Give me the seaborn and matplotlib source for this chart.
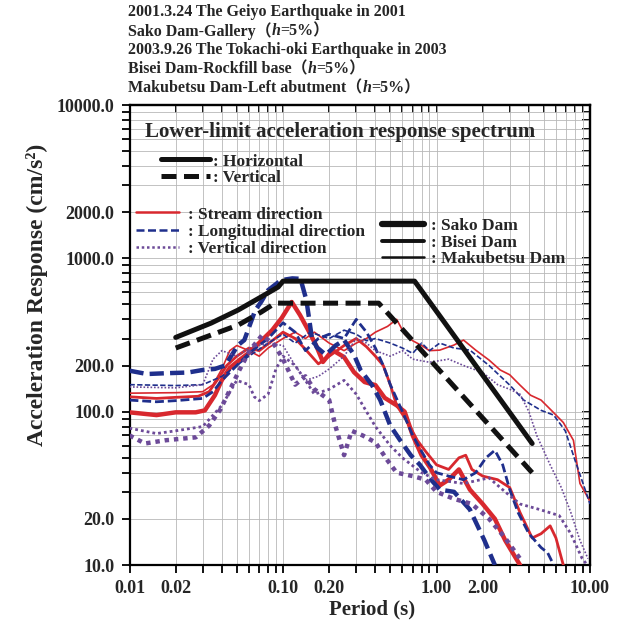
import numpy as np
import pandas as pd
import matplotlib
matplotlib.use("Agg")
import matplotlib.pyplot as plt
from matplotlib.ticker import FixedLocator, FixedFormatter, LogLocator, NullFormatter
from matplotlib.lines import Line2D
import seaborn as sns

# ---------------- data ----------------
dams = ["Sako Dam", "Bisei Dam", "Makubetsu Dam"]
directions = ["Stream direction", "Longitudinal direction", "Vertical direction"]

sako_stream_T = [0.01, 0.015, 0.02, 0.027, 0.031, 0.036, 0.04, 0.045, 0.052, 0.061, 0.073, 0.085, 0.098,
                 0.114, 0.129, 0.146, 0.164, 0.182, 0.21, 0.25, 0.29, 0.34, 0.40, 0.46, 0.55, 0.62, 0.70,
                 0.80, 0.91, 1.05, 1.2, 1.4, 1.65, 2.0, 2.4, 2.8, 3.2, 3.5]
sako_stream_Sa = [99, 95, 99, 99, 102, 128, 161, 193, 217, 245, 293, 340, 408, 519, 427, 340, 272, 211,
                  252, 227, 181, 156, 149, 123, 110, 100, 70, 52, 43, 33, 36, 42, 31, 25, 20, 14.5, 11.6, 10]

sako_long_T = [0.01, 0.013, 0.017, 0.024, 0.03, 0.036, 0.042, 0.051, 0.056, 0.066, 0.072, 0.08, 0.097,
               0.115, 0.13, 0.142, 0.154, 0.166, 0.19, 0.22, 0.25, 0.29, 0.32, 0.38, 0.43, 0.5, 0.58,
               0.68, 0.78, 0.9, 1.05, 1.3, 1.65, 2.05, 2.4]
sako_long_Sa = [185, 176, 178, 180, 187, 190, 200, 272, 293, 460, 519, 620, 720, 740, 735, 535, 306, 263,
                235, 270, 293, 235, 187, 149, 119, 81, 65, 52, 45, 37, 31, 30, 23, 14.5, 10]

sako_vert_T = [0.01, 0.0126, 0.017, 0.027, 0.033, 0.039, 0.045, 0.052, 0.061, 0.073, 0.088, 0.1, 0.12,
               0.14, 0.16, 0.2, 0.22, 0.25, 0.28, 0.33, 0.4, 0.48, 0.55, 0.7, 0.85, 1.0, 1.3, 1.7, 2.2,
               2.8, 3.5]
sako_vert_Sa = [70, 62, 65, 68, 81, 103, 138, 187, 252, 315, 272, 220, 150, 170, 140, 119, 80, 52, 75,
                70, 63, 48, 40, 38, 36, 30, 27, 25, 20, 15, 11]

bisei_stream_T = [0.01, 0.015, 0.02, 0.028, 0.033, 0.038, 0.043, 0.05, 0.06, 0.07, 0.085, 0.1, 0.12,
                  0.14, 0.17, 0.2, 0.25, 0.3, 0.35, 0.4, 0.45, 0.5, 0.55, 0.65, 0.75, 0.85, 1.0, 1.2,
                  1.4, 1.55, 1.7, 2.0, 2.5, 3.0, 3.5, 4.2, 4.8, 5.5, 6.0, 6.7]
bisei_stream_Sa = [125, 122, 124, 126, 135, 165, 200, 230, 260, 250, 290, 330, 300, 255, 205, 230, 270,
                   300, 265, 230, 200, 150, 110, 85, 65, 55, 45, 42, 50, 52, 42, 38, 36, 32, 22, 15, 16,
                   18, 15, 10]

bisei_long_T = [0.01, 0.015, 0.02, 0.03, 0.035, 0.04, 0.05, 0.06, 0.08, 0.1, 0.12, 0.14, 0.17, 0.2,
                0.25, 0.3, 0.35, 0.4, 0.45, 0.5, 0.6, 0.7, 0.8, 0.9, 1.0, 1.2, 1.5, 1.8, 2.1, 2.4, 2.7,
                3.0, 3.4, 4.0, 4.8, 5.3, 5.8]
bisei_long_Sa = [119, 116, 118, 122, 135, 160, 200, 240, 300, 380, 330, 250, 300, 320, 300, 400, 330,
                 260, 200, 150, 100, 70, 55, 45, 40, 38, 36, 40, 50, 56, 45, 31, 22, 16, 13, 12, 10]

bisei_vert_T = [0.01, 0.015, 0.02, 0.03, 0.04, 0.05, 0.06, 0.065, 0.07, 0.08, 0.09, 0.1, 0.12, 0.14,
                0.16, 0.2, 0.25, 0.3, 0.35, 0.4, 0.5, 0.6, 0.8, 1.0, 1.5, 2.2, 2.8, 3.5, 4.7, 6.3, 7.5,
                8.9, 10.0]
bisei_vert_Sa = [78, 72, 75, 80, 110, 160, 150, 125, 118, 130, 190, 230, 200, 160, 130, 140, 160, 130,
                 100, 80, 60, 50, 40, 36, 34, 37, 30, 25, 23, 21, 16, 11, 9.5]

maku_stream_T = [0.01, 0.02, 0.03, 0.035, 0.04, 0.045, 0.05, 0.06, 0.07, 0.08, 0.1, 0.12, 0.14, 0.16,
                 0.2, 0.25, 0.3, 0.35, 0.4, 0.48, 0.55, 0.62, 0.7, 0.8, 0.9, 1.05, 1.3, 1.5, 1.8, 2.2,
                 2.6, 3.0, 3.5, 4.1, 4.8, 5.6, 6.7, 7.8, 8.6, 10.0]
maku_stream_Sa = [132, 133, 135, 150, 190, 250, 270, 250, 230, 260, 300, 330, 300, 330, 280, 250, 280,
                  300, 330, 360, 400, 320, 290, 270, 250, 252, 272, 293, 252, 217, 187, 174, 149, 128,
                  119, 102, 85, 65, 34, 26]

maku_long_T = [0.01, 0.02, 0.03, 0.04, 0.05, 0.06, 0.08, 0.1, 0.12, 0.15, 0.2, 0.25, 0.3, 0.35, 0.4,
               0.5, 0.6, 0.7, 0.8, 0.9, 1.05, 1.3, 1.65, 2.2, 3.0, 3.7, 4.8, 5.8, 6.9, 8.0, 9.3, 10.0]
maku_long_Sa = [150, 148, 150, 170, 200, 230, 280, 320, 280, 330, 300, 340, 320, 290, 300, 280, 260,
                240, 280, 250, 280, 260, 252, 200, 149, 119, 102, 95, 75, 48, 31, 25]

maku_vert_T = [0.01, 0.02, 0.03, 0.035, 0.04, 0.05, 0.06, 0.08, 0.1, 0.12, 0.14, 0.17, 0.2, 0.25, 0.3,
               0.35, 0.4, 0.5, 0.6, 0.7, 0.9, 1.2, 1.5, 2.0, 2.5, 3.0, 3.5, 4.0, 4.5, 5.5, 6.5, 7.5,
               8.6, 9.7]
maku_vert_Sa = [145, 143, 150, 220, 250, 230, 260, 280, 270, 200, 160, 170, 190, 230, 300, 280, 250,
                230, 250, 220, 210, 220, 200, 180, 150, 140, 130, 100, 70, 45, 32, 22, 14.5, 11]

# lower-limit acceleration response spectrum
components = ["Horizontal", "Vertical"]
lower_h_T = [0.02, 0.034, 0.051, 0.072, 0.093, 0.1, 0.72, 4.2]
lower_h_Sa = [305, 378, 460, 560, 650, 710, 710, 62]
lower_v_T = [0.02, 0.034, 0.051, 0.072, 0.089, 0.1, 0.42, 4.2]
lower_v_Sa = [260, 316, 367, 446, 511, 510, 510, 40]

x_ticks = [0.01, 0.02, 0.1, 0.2, 1.0, 2.0, 10.0]
x_tick_labels = ["0.01", "0.02", "0.10", "0.20", "1.00", "2.00", "10.00"]
y_ticks = [10, 20, 100, 200, 1000, 2000, 10000]
y_tick_labels = ["10.0", "20.0", "100.0", "200.0", "1000.0", "2000.0", "10000.0"]

header_lines = [
    ["2001.3.24 The Geiyo Earthquake in 2001"],
    ["Sako Dam-Gallery（", "h", "=5%）"],
    ["2003.9.26 The Tokachi-oki Earthquake in 2003"],
    ["Bisei Dam-Rockfill base（", "h", "=5%）"],
    ["Makubetsu Dam-Left abutment（", "h", "=5%）"],
]

# ---------------- build tables ----------------
series = {
    ("Sako Dam", "Stream direction"): (sako_stream_T, sako_stream_Sa),
    ("Sako Dam", "Longitudinal direction"): (sako_long_T, sako_long_Sa),
    ("Sako Dam", "Vertical direction"): (sako_vert_T, sako_vert_Sa),
    ("Bisei Dam", "Stream direction"): (bisei_stream_T, bisei_stream_Sa),
    ("Bisei Dam", "Longitudinal direction"): (bisei_long_T, bisei_long_Sa),
    ("Bisei Dam", "Vertical direction"): (bisei_vert_T, bisei_vert_Sa),
    ("Makubetsu Dam", "Stream direction"): (maku_stream_T, maku_stream_Sa),
    ("Makubetsu Dam", "Longitudinal direction"): (maku_long_T, maku_long_Sa),
    ("Makubetsu Dam", "Vertical direction"): (maku_vert_T, maku_vert_Sa),
}
rows = []
for (dam, d), (T, S) in series.items():
    for t, s in zip(T, S):
        rows.append({"Dam": dam, "Direction": d, "Period": t, "Sa": s})
df = pd.DataFrame(rows)

ll_rows = []
for comp, (T, S) in zip(components, [(lower_h_T, lower_h_Sa), (lower_v_T, lower_v_Sa)]):
    for t, s in zip(T, S):
        ll_rows.append({"Component": comp, "Period": t, "Sa": s})
ll_df = pd.DataFrame(ll_rows)

# ---------------- style ----------------
sns.set_theme(style="white")
plt.rcParams["font.family"] = ["Liberation Serif", "Noto Sans CJK JP", "DejaVu Sans"]
plt.rcParams["font.weight"] = "bold"
plt.rcParams["axes.labelweight"] = "bold"
plt.rcParams["lines.scale_dashes"] = True

RED = "#d8282e"
BLUE = "#1f2f8c"
PURPLE = "#6c4a98"
BLACK = "#111111"

dir_colors = {"Stream direction": RED, "Longitudinal direction": BLUE, "Vertical direction": PURPLE}
dir_dashes = {"Stream direction": "", "Longitudinal direction": (3.2, 1.4), "Vertical direction": (1.0, 1.1)}
dam_widths = {"Sako Dam": 3.2, "Bisei Dam": 2.0, "Makubetsu Dam": 1.2}

fig = plt.figure(figsize=(6.24, 6.25), dpi=100)
ax = fig.add_axes([129.5 / 624, 60 / 625, 460.5 / 624, 460 / 625])
ax.set_xscale("log")
ax.set_yscale("log")

sns.lineplot(data=df, x="Period", y="Sa", hue="Direction", style="Direction", size="Dam",
             palette=dir_colors, dashes=dir_dashes, sizes=dam_widths, hue_order=directions,
             style_order=directions, size_order=dams, estimator=None, sort=False,
             legend=False, ax=ax, zorder=3)
sns.lineplot(data=ll_df, x="Period", y="Sa", style="Component", style_order=components,
             dashes={"Horizontal": "", "Vertical": (3.0, 1.5)}, color=BLACK, linewidth=3.6,
             estimator=None, sort=False, legend=False, ax=ax, zorder=4)

ax.set_xlim(0.01, 10)
ax.set_ylim(10, 10000)

for axis, ticks, labels in [(ax.xaxis, x_ticks, x_tick_labels), (ax.yaxis, y_ticks, y_tick_labels)]:
    axis.set_major_locator(FixedLocator(ticks))
    axis.set_major_formatter(FixedFormatter(labels))
    axis.set_minor_locator(LogLocator(base=10, subs=np.arange(2, 10)))
    axis.set_minor_formatter(NullFormatter())

ax.grid(True, which="both", color="#b8b8b8", linewidth=0.6)
ax.set_axisbelow(True)
ax.tick_params(which="both", direction="out", length=6, width=1.3, color="black",
               bottom=True, left=True, top=False, right=False)
ax.tick_params(which="major", labelsize=13, pad=5)
for lab in ax.get_xticklabels() + ax.get_yticklabels():
    lab.set_fontweight("bold")
for sp in ax.spines.values():
    sp.set_color("black")
    sp.set_linewidth(1.6)

# inward ticks on top and right
secx = ax.secondary_xaxis("top")
secy = ax.secondary_yaxis("right")
for sec, axis, ticks in [(secx, secx.xaxis, x_ticks), (secy, secy.yaxis, y_ticks)]:
    axis.set_major_locator(FixedLocator(ticks))
    axis.set_minor_locator(LogLocator(base=10, subs=np.arange(2, 10)))
    axis.set_major_formatter(NullFormatter())
    axis.set_minor_formatter(NullFormatter())
    sec.tick_params(which="both", direction="in", length=6, width=1.3, color="black")
    for sp in sec.spines.values():
        sp.set_linewidth(1.6)

ax.set_xlabel("Period (s)", fontsize=15, fontweight="bold")
ax.set_ylabel("Acceleration Response (cm/s²)", fontsize=17, fontweight="bold")
ax.xaxis.set_label_coords(0.527, -0.075)
ax.yaxis.set_label_coords(-0.178, 0.587)

# ---------------- legends ----------------
LEG_FS = 12.5
ax.text(145 / 624, 1 - 132 / 625, "Lower-limit acceleration response spectrum", transform=fig.transFigure,
        fontsize=15, fontweight="bold", va="center", ha="left", zorder=6)

hA = [Line2D([], [], color=BLACK, lw=3.6), Line2D([], [], color=BLACK, lw=3.6, dashes=(3.0, 1.5))]
legA = ax.legend(hA, [": " + c for c in components], loc="center left",
                 bbox_to_anchor=(161 / 624, 1 - 169.5 / 625), bbox_transform=fig.transFigure,
                 frameon=False, prop={"size": LEG_FS, "weight": "bold"}, handlelength=2.8,
                 handletextpad=0.2, labelspacing=0.0, borderpad=0, borderaxespad=0)
ax.add_artist(legA)

hB = [Line2D([], [], color=RED, lw=1.8),
      Line2D([], [], color=BLUE, lw=1.8, dashes=dir_dashes["Longitudinal direction"]),
      Line2D([], [], color=PURPLE, lw=1.8, dashes=dir_dashes["Vertical direction"])]
legB = ax.legend(hB, [": " + d for d in directions], loc="center left",
                 bbox_to_anchor=(136 / 624, 1 - 231.5 / 625), bbox_transform=fig.transFigure,
                 frameon=False, prop={"size": LEG_FS, "weight": "bold"}, handlelength=2.5,
                 handletextpad=0.5, labelspacing=0.05, borderpad=0, borderaxespad=0)
ax.add_artist(legB)

hC = [Line2D([], [], color=BLACK, lw=w) for w in (4.5, 2.8, 1.8)]
legC = ax.legend(hC, [": " + d for d in dams], loc="center left",
                 bbox_to_anchor=(382 / 624, 1 - 242.5 / 625), bbox_transform=fig.transFigure,
                 frameon=False, prop={"size": LEG_FS, "weight": "bold"}, handlelength=2.4,
                 handletextpad=0.4, labelspacing=0.0, borderpad=0, borderaxespad=0)

# ---------------- header text ----------------
fig.canvas.draw()
renderer = fig.canvas.get_renderer()
line_y = [12, 31, 50, 69, 88]
for parts, yp in zip(header_lines, line_y):
    x = 128 / 624
    for i, p in enumerate(parts):
        style = "italic" if p == "h" else "normal"
        t = fig.text(x, 1 - yp / 625, p, fontsize=11.5, fontweight="bold", fontstyle=style,
                     va="center", ha="left",
                     family=["Liberation Serif", "Noto Sans CJK JP", "DejaVu Sans"])
        bb = t.get_window_extent(renderer)
        x = bb.x1 / fig.bbox.width

fig.savefig("out.png", dpi=100)
